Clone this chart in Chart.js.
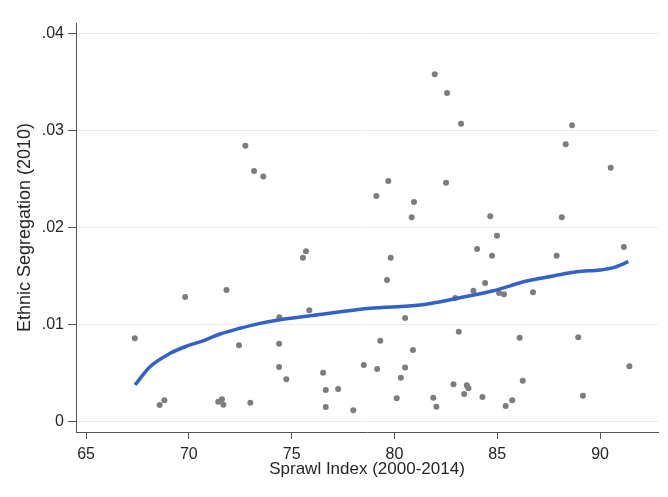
<!DOCTYPE html>
<html>
<head>
<meta charset="utf-8">
<script src="https://cdn.jsdelivr.net/npm/chart.js@4/dist/chart.umd.min.js"></script>
<style>
  html, body { margin: 0; padding: 0; background: #ffffff; }
  #wrap { width: 668px; height: 497px; }
</style>
</head>
<body>
<div id="wrap"><canvas id="c" width="668" height="497"></canvas></div>
<script>
// Metro areas: sprawl index vs. ethnic segregation
const sprawlIndex = [
  67.37, 69.82, 68.58, 68.81, 71.43, 71.61, 71.68, 72.99, 71.83, 72.44,
  72.75, 73.17, 73.62, 74.40, 74.39, 74.39, 74.74, 75.55, 75.70, 75.86,
  76.53, 76.66, 76.66, 77.26, 78.00, 78.51, 79.12, 79.16, 79.31, 79.64,
  79.70, 79.82, 80.11, 80.31, 80.52, 80.52, 80.84, 80.90, 80.95, 81.89,
  81.96, 82.04, 82.51, 82.56, 82.87, 82.96, 83.13, 83.24, 83.39, 83.52,
  83.60, 83.84, 84.02, 84.28, 84.41, 84.66, 84.75, 84.99, 85.09, 85.33,
  85.41, 85.73, 86.09, 86.24, 86.74, 87.89, 88.14, 88.33, 88.64, 88.94,
  89.17, 90.52, 91.16, 91.43
];
const segregation = [
  0.00856, 0.01282, 0.00168, 0.00216, 0.00202, 0.00227, 0.00171, 0.00192, 0.01354, 0.00783,
  0.02841, 0.02580, 0.02525, 0.01072, 0.00800, 0.00560, 0.00433, 0.01687, 0.01752, 0.01144,
  0.00501, 0.00323, 0.00147, 0.00333, 0.00113, 0.00580, 0.02323, 0.00539, 0.00831, 0.01457,
  0.02477, 0.01687, 0.00237, 0.00450, 0.01065, 0.00556, 0.02103, 0.00735, 0.02260, 0.00243,
  0.03577, 0.00151, 0.02460, 0.03384, 0.00381, 0.01271, 0.00924, 0.03068, 0.00281, 0.00371,
  0.00340, 0.01347, 0.01776, 0.00250, 0.01426, 0.02113, 0.01707, 0.01913, 0.01323, 0.01309,
  0.00158, 0.00216, 0.00862, 0.00419, 0.01330, 0.01707, 0.02103, 0.02856, 0.03052, 0.00866,
  0.00264, 0.02615, 0.01797, 0.00567
];

// Lowess smoother
const fitX = [67.38, 68.11, 69.09, 69.90, 70.79, 71.52, 72.49, 73.46, 74.35, 76.00,
              78.81, 81.25, 83.19, 84.81, 86.43, 87.73, 88.87, 90.00, 90.65, 91.38];
const fitY = [0.00375, 0.00563, 0.00701, 0.00776, 0.00838, 0.00900, 0.00959, 0.01010, 0.01044, 0.01090,
              0.01165, 0.01200, 0.01274, 0.01346, 0.01446, 0.01498, 0.01542, 0.01560, 0.01584, 0.01645];

const xTicks = [65, 70, 75, 80, 85, 90];
const yTicks = [0, 0.01, 0.02, 0.03, 0.04];
const yTickLabels = ['0', '.01', '.02', '.03', '.04'];

const FONT = "'Liberation Sans', Arial, Helvetica, sans-serif";
const INK = '#262626';

const points = sprawlIndex.map((x, i) => ({ x: x, y: segregation[i] }));
const fit = fitX.map((x, i) => ({ x: x, y: fitY[i] }));

new Chart(document.getElementById('c'), {
  type: 'scatter',
  data: {
    datasets: [
      {
        label: 'Lowess',
        data: fit,
        showLine: true,
        borderColor: '#3261c9',
        borderWidth: 3.5,
        pointRadius: 0,
        cubicInterpolationMode: 'monotone',
        fill: false,
        order: 0
      },
      {
        label: 'Metro areas',
        data: points,
        pointRadius: 3,
        pointBackgroundColor: '#7d7d7d',
        pointBorderWidth: 0,
        borderColor: '#7d7d7d',
        order: 1
      }
    ]
  },
  options: {
    responsive: false,
    animation: false,
    layout: { padding: { left: 0, right: 10, top: 23, bottom: 0 } },
    plugins: { legend: { display: false }, tooltip: { enabled: false } },
    scales: {
      x: {
        type: 'linear',
        min: 64.51,
        max: 92.82,
        afterBuildTicks: s => { s.ticks = xTicks.map(v => ({ value: v })); },
        afterFit: s => { s.height = 65; },
        border: { display: true, color: '#555555', width: 1 },
        grid: { drawOnChartArea: false, drawTicks: true, tickLength: 7, tickColor: '#555555' },
        ticks: { color: INK, font: { family: FONT, size: 16 }, padding: 6, maxRotation: 0, autoSkip: false },
        title: { display: true, text: 'Sprawl Index (2000-2014)', color: INK,
                 font: { family: FONT, size: 17 }, padding: { top: 0, bottom: 17 } }
      },
      y: {
        type: 'linear',
        min: -0.0011,
        max: 0.04106,
        afterBuildTicks: s => { s.ticks = yTicks.map(v => ({ value: v })); },
        afterFit: s => { s.width = 76; },
        border: { display: true, color: '#555555', width: 1 },
        grid: { drawOnChartArea: true, color: '#ececec', lineWidth: 1,
                drawTicks: true, tickLength: 8, tickColor: '#555555' },
        ticks: {
          color: INK, font: { family: FONT, size: 16 }, padding: 4, autoSkip: false,
          callback: v => { const i = yTicks.findIndex(t => Math.abs(t - v) < 1e-9); return i >= 0 ? yTickLabels[i] : ''; }
        },
        title: { display: true, text: 'Ethnic Segregation (2010)', color: INK,
                 font: { family: FONT, size: 18 }, padding: { top: 14, bottom: 0 } }
      }
    }
  }
});
</script>
</body>
</html>
